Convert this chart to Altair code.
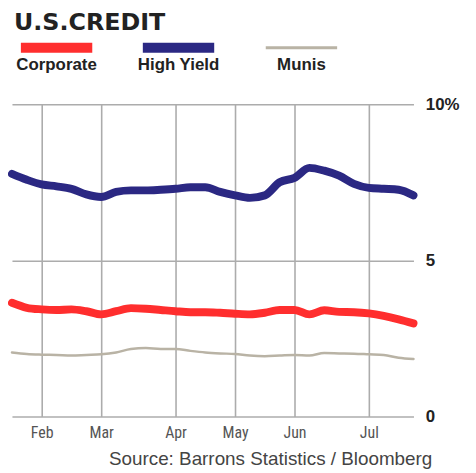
import altair as alt
import pandas as pd

title_text = "U.S.CREDIT"
source_text = "Source: Barrons Statistics / Bloomberg"
series_names = ["Corporate", "High Yield", "Munis"]
series_colors = ["#ff2e2e", "#2b2883", "#b9b3a5"]
series_widths = [8, 8, 2.5]

# weekly observations (week index 0..27)
weeks = list(range(28))
high_yield = [7.77, 7.58, 7.43, 7.37, 7.29, 7.11, 7.03, 7.19, 7.24, 7.24, 7.26, 7.29, 7.34, 7.34,
              7.19, 7.08, 7.00, 7.08, 7.50, 7.64, 7.96, 7.87, 7.71, 7.45, 7.32, 7.29, 7.26, 7.08]
corporate = [3.64, 3.48, 3.43, 3.41, 3.43, 3.37, 3.27, 3.37, 3.47, 3.45, 3.41, 3.37, 3.34, 3.34,
             3.32, 3.29, 3.27, 3.32, 3.41, 3.41, 3.27, 3.40, 3.35, 3.34, 3.30, 3.22, 3.11, 2.98]
munis = [2.05, 2.00, 1.98, 1.97, 1.95, 1.97, 1.99, 2.05, 2.16, 2.19, 2.16, 2.16, 2.10, 2.05,
         2.02, 2.00, 1.95, 1.93, 1.95, 1.97, 1.95, 2.03, 2.02, 2.01, 1.99, 1.97, 1.88, 1.84]

month_labels = ["Feb", "Mar", "Apr", "May", "Jun", "Jul"]
month_weeks = [2, 6, 11, 15, 19, 24]
y_ticks = [0, 5, 10]

label_expr = " : ".join(
    [f"datum.value == {w} ? '{m}'" for w, m in zip(month_weeks, month_labels)]
) + " : ''"

x_enc = alt.X("week:Q", scale=alt.Scale(domain=[0, 27], nice=False, zero=False),
              axis=alt.Axis(values=month_weeks, labelExpr=label_expr, grid=True, ticks=False,
                            domain=False, title=None,
                            labelFont="Liberation Sans Narrow, Roboto Condensed, Liberation Sans",
                            labelFontSize=16, labelColor="#555555", labelPadding=8,
                            gridColor="#acacac", gridWidth=1.6))
y_enc = alt.Y("value:Q", scale=alt.Scale(domain=[0, 10], nice=False),
              axis=alt.Axis(orient="right", values=y_ticks,
                            labelExpr="datum.value == 10 ? '10%' : datum.label",
                            grid=True, ticks=False, domain=False, title=None,
                            labelFont="Liberation Sans", labelFontWeight="bold", labelFontSize=17,
                            labelColor="#222222", labelAlign="left", labelBaseline="middle",
                            labelPadding=12, gridColor="#acacac", gridWidth=1.6))

line_layers = []
for name, vals, col, sw in zip(series_names, [corporate, high_yield, munis], series_colors, series_widths):
    d = pd.DataFrame({"week": weeks, "value": vals, "series": name})
    line_layers.append(
        alt.Chart(d).mark_line(interpolate="monotone", strokeCap="round", strokeJoin="round",
                               color=col, strokeWidth=sw).encode(x=x_enc, y=y_enc))
# draw munis first, then corporate, then high yield
line_layers = [line_layers[2], line_layers[0], line_layers[1]]

title = alt.Chart(pd.DataFrame({"t": [title_text]})).mark_text(
    align="left", baseline="alphabetic", font="DejaVu Sans",
    fontWeight="bold", fontSize=24, color="#222222").encode(
    x=alt.value(2), y=alt.value(-75), text="t:N")

source = alt.Chart(pd.DataFrame({"t": [source_text]})).mark_text(
    align="right", baseline="alphabetic", font="Liberation Sans", fontSize=19, color="#444444").encode(
    x=alt.value(424), y=alt.value(364), text="t:N")

legend_x0 = [9, 132, 256]
legend_layers = []
for name, col, x0 in zip(series_names, series_colors, legend_x0):
    sw = 10 if name != "Munis" else 3
    legend_layers.append(
        alt.Chart(pd.DataFrame({"t": [name]})).mark_rule(color=col, strokeWidth=sw).encode(
            x=alt.value(x0), x2=alt.value(x0 + 72), y=alt.value(-57)))
    legend_layers.append(
        alt.Chart(pd.DataFrame({"t": [name]})).mark_text(
            align="center", baseline="alphabetic", font="Liberation Sans", fontWeight="bold",
            fontSize=17, color="#222222").encode(
            x=alt.value(x0 + 36), y=alt.value(-34), text="t:N"))

chart = alt.layer(*line_layers, title, source, *legend_layers).properties(
    width=405, height=315,
    autosize=alt.AutoSizeParams(type="none"),
    padding={"left": 4, "top": 95, "right": 55, "bottom": 55},
    background="white",
).configure_view(stroke=None)

chart.save("out.html", embed_options={"renderer": "svg", "actions": False})
